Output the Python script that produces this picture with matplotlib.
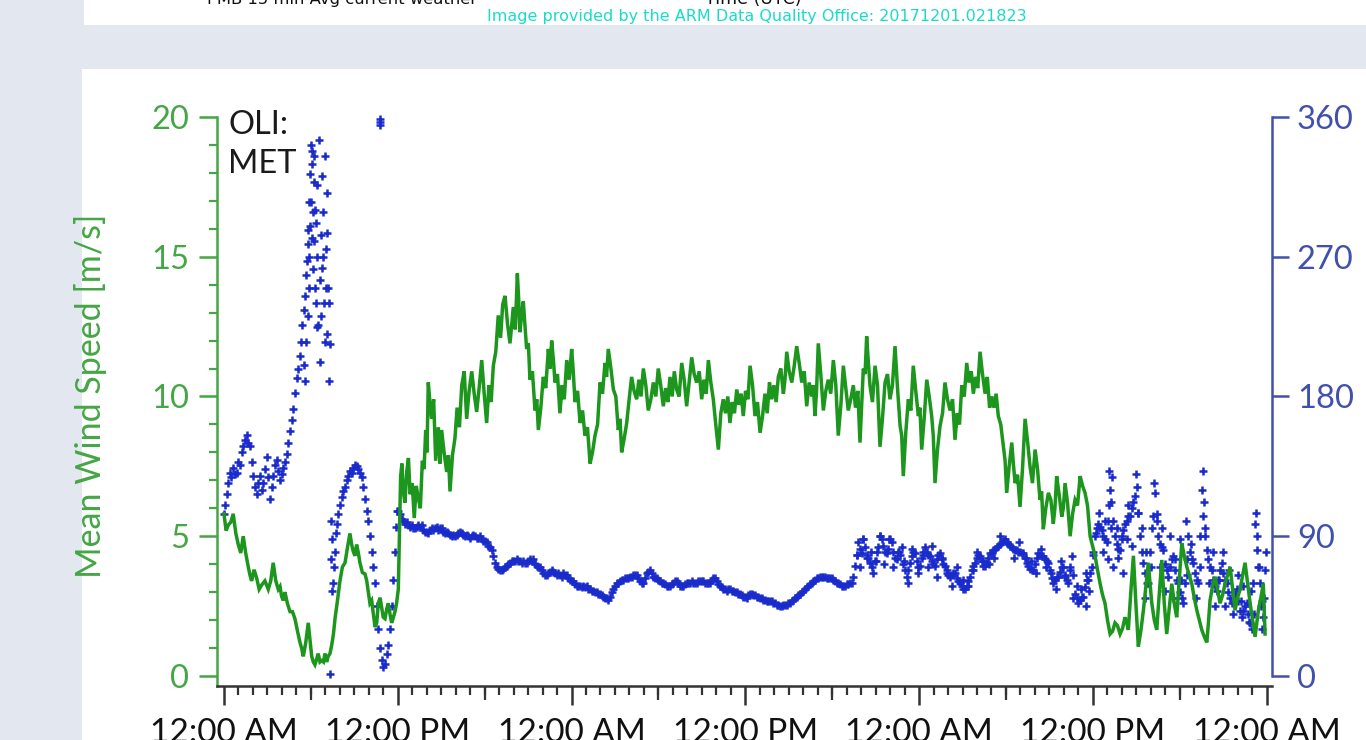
import matplotlib
matplotlib.use("Agg")
import matplotlib.pyplot as plt
import numpy as np
from matplotlib.patches import Rectangle
from matplotlib.ticker import FixedLocator, MultipleLocator

plt.rcParams["font.family"] = ["Lato", "DejaVu Sans"]

W, H = 1366, 740

# OLI MET: mean wind speed, hours since the first midnight (sorted before plotting)
speed_hours = [
    0.00, 0.30, 0.64, 0.99, 1.33, 1.68, 1.91, 2.26, 2.60, 3.06, 3.40, 3.75, 3.98, 4.21, 4.56, 4.90,
    5.25, 5.48, 5.82, 6.06, 6.28, 6.51, 6.75, 6.98, 7.20, 7.44, 7.67, 8.01, 8.36, 8.70, 8.93, 9.16,
    9.39, 9.74, 9.97, 10.20, 10.43, 10.66, 10.89, 11.12, 11.35, 11.58, 11.81, 12.04, 12.20, 12.38,
    12.62, 12.85, 13.14, 13.42, 13.70, 13.93, 14.11, 14.34, 14.62, 15.03, 15.38, 15.61, 15.95, 16.42,
    16.76, 17.11, 17.45, 17.80,
    18.14, 18.60, 18.94, 19.41, 19.75, 19.98, 20.26, 20.44, 20.67, 20.90, 21.13, 21.48, 21.71, 22.05,
    22.40, 22.63, 22.86, 23.20, 23.67, 24.01, 24.24, 24.59, 24.93, 25.28, 25.62, 25.97, 26.31, 26.54,
    26.89, 27.23, 27.46, 27.81, 28.15, 28.50, 28.96, 29.30, 29.65, 29.99, 30.34, 30.80, 31.26, 31.61,
    31.95, 32.30, 32.64, 32.99, 33.45, 33.79, 34.14, 34.48, 34.94, 35.41, 35.86,
    36.33, 36.67, 37.02, 37.36, 37.82, 38.28, 38.63, 38.86, 39.21, 39.55, 39.90, 40.24, 40.59, 40.81,
    41.04, 41.39, 41.73, 42.08, 42.42, 42.77, 43.11, 43.46, 43.92, 44.15, 44.38, 44.61, 44.96, 45.30,
    45.65, 45.99, 46.34, 46.69, 46.91, 47.26, 47.60, 47.95, 48.18, 48.53, 48.87, 49.10, 49.45, 49.79,
    50.14, 50.48, 50.95, 51.29, 51.75, 52.21, 52.56, 53.02, 53.47, 53.82, 54.05, 54.40,
    54.63, 54.97, 55.32, 55.66, 56.01, 56.35, 56.58, 56.93, 57.27, 57.50, 57.85, 58.08, 58.43, 58.77,
    59.12, 59.46, 59.81, 60.15, 60.50, 60.84, 61.19, 61.53, 61.88, 62.22, 62.45, 62.80, 63.14, 63.49,
    63.83, 64.07, 64.41, 64.76, 65.10, 65.45, 65.79, 66.14, 66.49, 66.83, 67.18, 67.52, 67.87, 68.09,
    68.44, 68.78, 69.13, 69.48, 69.82, 70.17, 70.51, 70.86, 71.20, 71.43, 71.77, 71.89,
    # short-period gusts between the readings above
    0.15, 0.47, 0.82, 1.16, 1.50, 1.80, 2.08, 2.43, 2.83, 3.23, 3.58, 3.87, 4.10, 4.38, 4.73, 5.08,
    5.36, 5.65, 5.94, 6.17, 6.40, 6.63, 6.87, 7.09, 7.32, 7.56, 7.84, 8.18, 8.53, 8.82, 9.05, 9.28,
    9.56, 9.86, 10.08, 10.32, 10.55, 10.78, 11.00, 11.24, 11.47, 11.70, 11.92,
    12.29, 12.50, 12.74, 13.00, 13.28, 13.56, 13.82, 14.02, 14.22, 14.48, 14.80, 14.92, 15.20, 15.50,
    15.78, 16.10, 16.26, 16.59, 16.93, 17.28, 17.62, 17.97, 18.30, 18.45, 18.77, 19.10, 19.25, 19.58,
    19.86, 20.12, 20.35, 20.55, 20.78, 21.02, 21.30, 21.60, 21.88, 22.22, 22.52, 22.75, 23.03, 23.35,
    23.50, 23.84, 24.12, 24.42, 24.76, 25.10, 25.45, 25.80, 26.14, 26.42, 26.72, 27.06, 27.35, 27.64,
    27.98, 28.32, 28.65, 28.80, 29.13, 29.48, 29.82, 30.16, 30.50, 30.65, 30.95, 31.10, 31.43, 31.78,
    32.12, 32.47, 32.82, 33.14, 33.30, 33.62, 33.96, 34.31, 34.63, 34.79, 35.10, 35.25, 35.56, 35.71,
    36.02, 36.18, 36.50, 36.84, 37.19, 37.51, 37.67, 37.97, 38.13, 38.45, 38.74, 39.03, 39.38, 39.72,
    40.07, 40.41, 40.70, 40.92, 41.21, 41.56, 41.90, 42.25, 42.60, 42.94, 43.28, 43.61, 43.77, 44.03,
    44.27, 44.50, 44.78, 45.13, 45.47, 45.82, 46.16, 46.51, 46.80, 47.08, 47.43, 47.77, 48.06, 48.35,
    48.70, 48.98, 49.27, 49.62, 49.96, 50.31, 50.64, 50.79, 51.12, 51.44, 51.60, 51.90, 52.05, 52.38,
    52.71, 52.87, 53.17, 53.32, 53.64, 53.94, 54.22, 54.51, 54.80, 55.14, 55.49, 55.83, 56.18, 56.46,
    56.75, 57.10, 57.38, 57.67, 57.96, 58.25, 58.60, 58.94, 59.29, 59.63,
    60.32, 60.67, 61.01, 61.36, 61.70, 62.05, 62.34, 62.62, 62.97, 63.31, 63.66, 63.95, 64.24, 64.58,
    64.93, 65.27, 65.62, 65.96, 66.31, 66.66, 67.00, 67.35, 67.70, 67.98, 68.26, 68.61, 68.96, 69.30,
    69.65, 69.99, 70.34, 70.69, 71.03, 71.32, 71.60,
]
speed_ms = [
    5.8, 5.4, 5.8, 4.7, 5.0, 3.9, 3.4, 3.5, 3.25, 3.1, 4.05, 3.1, 2.85, 3.0, 2.3, 2.05,
    1.2, 0.7, 1.9, 0.7, 0.4, 0.8, 0.55, 0.8, 0.7, 1.1, 2.05, 3.4, 4.05, 5.1, 4.45, 4.7,
    4.05, 3.65, 3.0, 2.7, 1.75, 2.6, 2.45, 2.05, 2.6, 1.9, 2.3, 3.1, 7.15, 6.6,
    7.3, 6.5, 5.65, 6.35, 7.7, 8.8, 10.5, 9.2, 7.7, 8.8, 7.3, 6.6, 8.5, 10.4,
    9.2, 10.9, 9.45, 11.3,
    9.05, 11.1, 12.9, 13.6, 11.9, 13.2, 14.4, 12.3, 13.4, 11.7, 10.6, 9.5, 8.8, 10.7,
    11.7, 12.0, 10.5, 9.4, 11.3, 11.7, 9.8, 9.05, 8.6, 7.6, 8.6, 10.5, 11.2, 11.7,
    10.25, 8.8, 8.0, 9.05, 10.7, 9.9, 11.0, 9.5, 10.5, 11.0, 9.65, 10.7, 10.25, 11.2,
    9.65, 11.4, 10.5, 9.9, 11.3, 9.9, 8.1, 9.9, 9.05, 10.25, 9.3,
    11.1, 9.3, 8.7, 10.1, 9.9, 10.7, 10.1, 11.6, 10.5, 11.8, 10.5, 9.65, 10.0, 9.3,
    11.9, 9.5, 10.6, 11.3, 8.6, 11.1, 9.5, 10.4, 8.35, 11.0, 12.15, 10.4, 11.1, 8.2,
    10.5, 9.9, 11.8, 8.95, 7.15, 9.9, 11.1, 9.3, 8.1, 10.6, 9.3, 6.9, 8.95, 10.5,
    9.5, 8.45, 10.4, 11.2, 10.1, 11.6, 10.1, 10.0, 9.3, 8.2, 6.55, 8.35,
    6.9, 6.05, 9.2, 7.5, 8.1, 6.3, 5.25, 6.55, 5.45, 7.15, 5.7, 6.9, 5.0, 6.3,
    7.15, 6.55, 5.0, 4.3, 3.3, 2.6, 1.5, 1.9, 1.5, 2.1, 1.65, 4.3, 1.05, 2.35,
    4.05, 2.6, 1.65, 4.15, 1.5, 3.3, 2.1, 4.75, 3.9, 3.3, 2.35, 1.65, 1.2, 2.7,
    3.55, 2.6, 3.3, 3.9, 2.35, 3.1, 4.05, 2.6, 1.4, 2.35, 3.3, 1.5,
    5.2, 5.5, 5.1, 4.4, 4.4, 3.6, 3.8, 3.1, 3.4, 3.4, 3.4, 3.2, 2.7, 2.6, 2.3, 1.6,
    1.0, 1.2, 1.3, 0.5, 0.6, 0.5, 0.5, 0.5, 0.8, 1.5, 2.7, 3.9, 4.6, 4.7, 4.3, 4.4,
    3.7, 3.4, 2.6, 2.2, 1.9, 2.8, 2.1, 2.4, 2.2, 2.1, 2.6,
    7.6, 6.2, 7.8, 6.9, 6.8, 6.0, 7.4, 8.0, 9.8, 9.9, 8.9, 7.6, 8.0, 7.9,
    7.9, 9.6, 8.9, 10.9, 10.2, 10.1, 10.3, 10.1, 10.4, 9.8, 11.6, 12.1, 13.3, 12.6,
    12.5, 12.4, 13.5, 12.9, 12.6, 11.9, 10.9, 9.9, 9.6, 10.3, 11.0, 11.3, 10.8, 10.4,
    9.9, 10.6, 10.9, 10.2, 9.5, 8.9, 8.0, 9.0, 10.1, 10.7, 11.0, 10.0, 9.2, 8.5,
    9.9, 10.2, 10.6, 10.0, 10.4, 9.9, 10.0, 10.4, 10.3, 9.8, 10.0, 10.9, 10.0, 10.6,
    10.5, 10.8, 10.9, 10.6, 10.1, 10.5, 9.0, 9.4, 9.4, 10.0, 9.8, 9.4, 9.7, 10.1,
    10.2, 9.9, 10.4, 9.8, 9.3, 9.4, 10.5, 10.4, 9.8, 11.0, 10.6, 10.9, 11.1, 11.2,
    10.9, 10.5, 10.4, 10.2, 10.8, 10.2, 10.1, 10.4, 9.7, 10.3, 9.9, 9.6, 10.2, 9.6,
    10.8, 11.2, 9.8, 10.4, 9.2, 10.8, 10.4, 10.3, 8.6, 8.7, 9.5, 10.2, 9.6, 9.2,
    10.0, 8.6, 8.1, 9.4, 9.9, 9.9, 9.4, 9.0, 10.0, 10.5, 10.9, 10.7, 10.3, 10.8,
    10.7, 9.6, 9.6, 10.1, 9.0, 7.7, 7.5, 7.6, 7.2, 7.4, 8.4, 6.9, 7.4, 6.6,
    6.0, 6.3, 6.0, 6.5, 6.0, 6.2, 5.8, 6.1, 6.8, 6.1,
    3.8, 2.9, 2.0, 1.6, 1.8, 1.7, 1.9, 3.0, 2.6, 1.6, 3.2, 3.3, 2.0, 2.9,
    2.6, 2.4, 2.6, 3.4, 4.3, 3.6, 2.8, 2.0, 1.4, 1.9, 3.2, 3.1, 2.9, 3.6,
    3.1, 2.8, 3.6, 3.3, 2.0, 1.9, 2.8,
]

# wind direction samples (degrees), same time base
dir_hours = [
    0.00, 0.07, 0.18, 0.30, 0.41, 0.52, 0.64, 0.75, 0.87, 0.98, 1.10, 1.22, 1.33, 1.45, 1.57, 1.68,
    1.80, 1.91, 2.02, 2.14, 2.26, 2.37, 2.49, 2.60, 2.71, 2.83, 2.95, 3.06, 3.18, 3.29, 3.40, 3.52,
    3.64, 3.75, 3.87, 3.98, 4.10, 4.21, 4.33, 4.45, 4.56, 4.68, 4.79, 4.91, 5.02, 5.14, 5.25, 5.33,
    5.41, 5.50, 5.59, 5.65, 5.71, 5.77, 5.82, 5.88, 5.94, 6.01, 6.06, 6.10, 6.17, 6.22, 6.28, 6.34,
    6.40, 6.45, 6.51, 6.57, 6.63, 6.69, 6.75, 6.80, 6.86, 6.92, 6.98, 7.03, 7.09, 7.15, 7.20, 7.26,
    7.32, 7.30, 7.36, 7.40, 7.44, 7.48, 7.52, 7.58, 7.65, 7.72, 7.80, 7.90, 8.01, 8.12, 8.24, 8.36,
    8.47, 8.59, 8.70, 8.82, 8.93, 9.05, 9.16, 9.28, 9.39, 9.50, 9.62, 9.74, 9.85, 9.97, 10.08, 10.20,
    10.31, 10.43, 10.55, 10.66, 10.75, 10.78, 10.80, 10.77, 10.89, 11.00, 11.12, 11.24, 11.35, 11.47,
    11.58, 11.70, 11.80, 11.88, 11.95,
    5.55, 5.62, 5.70, 5.78, 5.85, 5.90, 5.97, 6.03, 6.08, 6.14, 6.20, 6.25, 6.30, 6.36, 6.42, 6.60,
    6.70, 6.85, 6.95, 7.05, 7.12, 7.25,
    12.04, 12.15, 12.27, 12.38, 12.50, 12.62, 12.73, 12.85, 12.96, 13.08, 13.19, 13.31, 13.42, 13.54,
    13.65, 13.77, 13.88, 14.00, 14.11, 14.23, 14.34, 14.46, 14.57, 14.69, 14.80, 14.92, 15.03, 15.15,
    15.26, 15.38, 15.49, 15.61, 15.72, 15.84, 15.95, 16.07, 16.19, 16.30, 16.42, 16.53, 16.65, 16.76,
    16.87, 16.99, 17.10, 17.22, 17.33, 17.45, 17.57, 17.68, 17.80, 17.91, 18.03, 18.14, 18.26, 18.37,
    18.49, 18.60, 18.72, 18.83, 18.95, 19.06, 19.18, 19.29, 19.41, 19.52, 19.64, 19.75, 19.87, 19.98,
    20.10, 20.21, 20.33, 20.44, 20.56, 20.67, 20.79, 20.90, 21.02, 21.13, 21.25, 21.36, 21.48, 21.59,
    21.71, 21.82, 21.94, 22.05, 22.17, 22.29, 22.40, 22.52, 22.63, 22.74, 22.86, 22.97, 23.09, 23.20,
    23.32, 23.43, 23.55, 23.67, 23.78, 23.90, 24.01, 24.12, 24.24, 24.36, 24.47, 24.59, 24.70, 24.82,
    24.93, 25.05, 25.16, 25.28, 25.39, 25.50, 25.62, 25.74, 25.85, 25.97, 26.08, 26.20, 26.31, 26.43,
    26.55, 26.66, 26.78, 26.89, 27.01, 27.12, 27.23, 27.35, 27.46, 27.58, 27.69, 27.81, 27.92, 28.04,
    28.15, 28.27, 28.38, 28.50, 28.61, 28.73, 28.84, 28.96, 29.07, 29.19, 29.30, 29.42, 29.53, 29.65,
    29.76, 29.88, 29.99, 30.11, 30.22, 30.34, 30.45, 30.57, 30.68, 30.80, 30.91, 31.03, 31.14, 31.26,
    31.37, 31.49, 31.61, 31.72, 31.84, 31.95, 32.07, 32.18, 32.30, 32.41, 32.53, 32.64, 32.76, 32.87,
    32.99, 33.10, 33.22, 33.33, 33.45, 33.56, 33.68, 33.79, 33.91, 34.02, 34.14, 34.25, 34.37, 34.48,
    34.60, 34.72, 34.83, 34.95, 35.06, 35.17, 35.29, 35.41, 35.52, 35.64, 35.75, 35.87, 35.98, 36.10,
    36.21, 36.33, 36.44, 36.56, 36.67, 36.79, 36.90, 37.02, 37.13, 37.25, 37.36, 37.48, 37.59, 37.71,
    37.82, 37.94, 38.05, 38.17, 38.28, 38.40, 38.51, 38.63, 38.74, 38.86, 38.97, 39.09, 39.21, 39.32,
    39.44, 39.55, 39.66, 39.78, 39.90, 40.01, 40.12, 40.24, 40.36, 40.47, 40.59, 40.70, 40.81, 40.93,
    41.04, 41.16, 41.28, 41.39, 41.51, 41.62, 41.74, 41.85, 41.97, 42.08, 42.20, 42.31, 42.42, 42.54,
    42.66, 42.77, 42.89, 43.00, 43.12, 43.23, 43.35, 43.46, 43.58, 43.69, 43.81, 43.92, 44.04, 44.15,
    44.27, 44.38, 44.50, 44.61, 44.73, 44.84, 44.96, 45.07, 45.19, 45.30, 45.42, 45.53, 45.65, 45.77,
    45.88, 45.99, 46.11, 46.23, 46.34, 46.46, 46.57, 46.69, 46.80, 46.92, 47.03, 47.15, 47.26, 47.38,
    47.49, 47.60, 47.72, 47.84, 47.95, 48.07, 48.18, 48.30, 48.41, 48.53, 48.64, 48.76, 48.87, 48.99,
    49.10, 49.22, 49.33, 49.45, 49.56, 49.68, 49.79, 49.91, 50.02, 50.14, 50.25, 50.37, 50.48, 50.60,
    50.71, 50.83, 50.94, 51.06, 51.17, 51.29, 51.40, 51.52, 51.63, 51.75, 51.86, 51.98, 52.09, 52.21,
    52.32, 52.44, 52.56, 52.67, 52.79, 52.90, 53.02, 53.13, 53.25, 53.36, 53.47, 53.59, 53.70, 53.82,
    53.94, 54.05, 54.17, 54.28, 54.40,
    43.70, 43.95, 44.15, 44.40, 44.70, 45.00, 45.30, 45.55, 45.90, 46.20, 46.60, 46.95, 47.25, 47.50,
    47.90, 48.25, 48.60, 48.90, 49.25, 49.60, 49.95, 50.30, 50.60, 51.00, 51.35, 51.70, 52.00, 52.40,
    52.80, 53.20, 53.60, 54.10, 54.55, 54.90, 55.35, 55.70, 56.05, 56.40, 56.75, 57.10, 57.45, 57.80,
    58.10, 58.40, 58.65, 58.90, 59.20, 59.50,
    54.51, 54.63, 54.74, 54.86, 54.97, 55.09, 55.20, 55.32, 55.43, 55.55, 55.66, 55.78, 55.89, 56.01,
    56.12, 56.24, 56.35, 56.47, 56.58, 56.70, 56.81, 56.93, 57.04, 57.16, 57.27, 57.39, 57.50, 57.62,
    57.73, 57.85, 57.96, 58.08, 58.19, 58.31, 58.42, 58.54, 58.65, 58.77, 58.88, 59.00, 59.11, 59.23,
    59.34, 59.46, 59.57, 59.69, 59.80, 59.92, 60.03, 60.15, 60.26, 60.38, 60.49, 60.61, 60.72, 60.84,
    60.96, 61.05, 61.14, 61.19, 61.30, 61.42, 61.53, 61.65, 61.76, 61.88, 61.99, 62.11, 62.22, 62.34,
    62.45, 62.57, 62.68, 62.80, 62.91, 63.03, 63.14, 63.26, 63.37, 63.49, 63.60, 63.72, 63.83, 63.95,
    64.06, 64.18, 64.30, 64.41, 64.52, 64.64, 64.75, 64.87, 64.98, 65.10, 65.21, 65.33, 65.44, 65.56,
    65.67, 65.79, 65.90, 66.02, 66.13, 66.25, 66.36, 66.48, 66.59, 66.71, 66.82, 66.94, 67.05, 67.17,
    67.29, 67.40, 67.52, 67.63, 67.75, 67.86, 67.98, 68.09, 68.21, 68.33, 68.44, 68.56, 68.67, 68.79,
    68.90, 69.02, 69.13, 69.25, 69.36, 69.48, 69.59, 69.71, 69.82, 69.94, 70.05, 70.17, 70.28, 70.40,
    70.51, 70.63, 70.74, 70.86, 70.97, 71.09, 71.20, 71.32, 71.43, 71.55, 71.66, 71.77, 71.89,
    59.50, 59.75, 60.00, 60.25, 60.45, 60.70, 60.85, 61.05, 61.14, 61.22, 61.25, 61.40, 61.65, 61.75,
    62.00, 62.10, 62.35, 62.45, 62.70, 62.98, 63.10, 63.40, 63.60, 63.70, 64.00, 64.25, 64.40, 64.65,
    64.80, 65.00, 65.35, 65.50, 65.70, 66.00, 66.10, 66.40, 66.50, 66.80, 67.10, 67.40, 67.58, 67.66,
    67.75, 68.00, 68.30, 68.45, 68.70, 69.00, 69.10, 69.40, 69.70, 70.00, 70.20, 70.40, 70.75, 70.90,
    71.10, 71.25, 71.35, 71.45, 71.60, 71.70, 71.85, 71.95,
]
dir_deg = [
    104, 110, 117, 124, 131, 128, 134, 130, 131, 138, 136, 144, 148, 152, 155, 150,
    148, 138, 129, 122, 117, 124, 129, 120, 124, 133, 141, 128, 114, 122, 129, 136,
    139, 132, 126, 130, 134, 138, 143, 150, 158, 165, 172, 182, 192, 198, 206, 215,
    226, 236, 245, 258, 267, 278, 287, 305, 323, 342, 338, 330, 299, 280, 250, 292,
    270, 316, 226, 345, 202, 284, 263, 322, 299, 240, 335, 275, 311, 220, 250, 190,
    214, 1, 100, 75, 55, 88, 60, 70, 80, 92, 98, 104, 110, 115, 119, 122,
    126, 129, 132, 131, 134, 136, 135, 133, 131, 128, 122, 114, 106, 100, 90, 80,
    70, 60, 45, 30, 357, 359, 355, 18, 10, 6, 8, 14, 20, 30,
    45, 62, 80, 96, 106,
    200, 190, 215, 232, 250, 270, 290, 305, 282, 262, 318, 335, 300, 240, 225, 255,
    232, 270, 215, 250, 285, 240,
    106, 104, 101, 100, 98, 99, 97, 96, 97, 95, 95, 96, 97, 96,
    97, 94, 93, 93, 92, 94, 95, 94, 95, 96, 94, 95, 95, 93,
    92, 93, 92, 91, 90, 91, 90, 91, 92, 93, 92, 91, 90, 91,
    90, 89, 90, 91, 90, 89, 89, 90, 88, 87, 87, 86, 84, 83,
    81, 77, 73, 70, 69, 68, 68, 69, 70, 71, 72, 73, 74, 74,
    74, 75, 74, 74, 73, 74, 73, 73, 74, 75, 74, 75, 72, 71,
    70, 70, 68, 66, 65, 65, 66, 67, 68, 67, 66, 65, 66, 65,
    64, 66, 65, 65, 63, 62, 61, 61, 59, 58, 58, 58, 57, 58,
    57, 58, 56, 56, 55, 55, 54, 54, 53, 53, 52, 51, 50, 50,
    49, 51, 54, 56, 58, 60, 60, 61, 62, 62, 63, 63, 63, 64,
    64, 65, 65, 65, 63, 61, 60, 60, 63, 66, 67, 68, 66, 64,
    63, 63, 62, 61, 60, 60, 59, 58, 58, 58, 59, 60, 61, 61,
    60, 58, 58, 58, 59, 60, 60, 60, 61, 60, 60, 60, 61, 61,
    61, 61, 60, 60, 60, 60, 62, 63, 63, 61, 59, 58, 57, 56,
    56, 55, 56, 56, 55, 55, 54, 54, 53, 53, 52, 51, 51, 50,
    52, 53, 53, 52, 52, 51, 51, 50, 50, 49, 49, 48, 48, 48,
    48, 47, 47, 46, 46, 45, 45, 46, 46, 46, 47, 47, 48, 49,
    50, 51, 52, 53, 54, 55, 56, 57, 58, 59, 60, 61, 62, 63,
    63, 64, 64, 64, 64, 63, 63, 63, 63, 62, 61, 60, 60, 59,
    58, 58, 58, 59, 59, 60, 60, 64, 71, 78, 86, 82, 79, 88,
    83, 78, 76, 73, 70, 66, 74, 80, 83, 90, 88, 84, 80, 79,
    82, 88, 86, 80, 76, 75, 80, 78, 83, 72, 68, 64, 68, 73,
    77, 80, 79, 74, 70, 71, 76, 80, 83, 80, 78, 77, 74, 72,
    71, 75, 78, 79, 75, 72, 71, 68, 65, 64, 65, 66, 66, 63,
    61, 60, 58, 56, 56, 58, 61, 64, 68, 71, 73, 76, 78, 77,
    74, 71, 71, 73, 76, 79, 79, 81, 82, 83, 84, 85, 86, 87,
    88, 86, 85, 84, 83,
    78, 70, 88, 76, 80, 74, 90, 72, 88, 70, 80, 74, 60, 82,
    66, 78, 70, 84, 64, 76, 66, 58, 70, 62, 58, 68, 80, 74,
    72, 76, 90, 86, 76, 86, 76, 74, 66, 82, 70, 66, 56, 74,
    64, 70, 50, 58, 56, 45,
    82, 81, 81, 80, 80, 79, 79, 76, 73, 71, 69, 68, 68, 72,
    76, 79, 78, 77, 77, 75, 74, 73, 68, 63, 60, 62, 64, 64,
    67, 70, 70, 65, 62, 60, 68, 77, 65, 53, 50, 47, 49, 51,
    51, 57, 62, 62, 66, 70, 80, 90, 95, 98, 96, 94, 90, 88,
    86, 100, 110, 120, 128, 100, 90, 85, 82, 81, 88, 94, 98, 100,
    103, 103, 108, 112, 116, 122, 105, 90, 80, 73, 66, 60, 60, 80,
    95, 103, 118, 104, 90, 85, 83, 81, 72, 68, 64, 70, 75, 77,
    68, 62, 60, 54, 50, 47, 60, 75, 90, 80, 75, 73, 66, 62,
    60, 90, 120, 103, 90, 81, 75, 70, 68, 62, 58, 55, 62, 68,
    73, 66, 62, 60, 54, 50, 47, 50, 53, 56, 48, 42, 38, 42,
    45, 47, 40, 34, 30, 60, 98, 81, 70, 60, 48, 38, 68,
    66, 55, 78, 92, 105, 80, 100, 75, 132, 95, 112, 70, 95, 76,
    90, 66, 88, 110, 84, 130, 105, 95, 50, 80, 70, 124, 100, 70,
    95, 55, 90, 50, 75, 88, 62, 100, 65, 85, 50, 70, 132, 112,
    95, 60, 80, 45, 62, 80, 45, 68, 40, 65, 48, 58, 35, 55,
    40, 105, 90, 70, 45, 30, 50, 80,
]

tick_hours = [0, 12, 24, 36, 48, 60, 72]
tick_labels = ["12:00 AM", "12:00 PM", "12:00 AM", "12:00 PM",
               "12:00 AM", "12:00 PM", "12:00 AM"]
six_hour_ticks = [6, 18, 30, 42, 54, 66]

GREEN_LINE = "#1c961c"
GREEN_AXIS = "#44a644"
BLUE_MARK = "#1a2bcc"
BLUE_AXIS = "#4150ad"

order = np.argsort(speed_hours, kind="stable")
t_speed = np.asarray(speed_hours)[order]
v_speed = np.asarray(speed_ms)[order]

fig = plt.figure(figsize=(W / 100, H / 100), dpi=100)
fig.patch.set_facecolor("#e3e7ef")

# page panels behind the plot
fig.add_artist(Rectangle((84 / W, 1 - 25 / H), 1, 25 / H, transform=fig.transFigure,
                         facecolor="white", edgecolor="none", zorder=0))
fig.add_artist(Rectangle((82 / W, 0), 1, (H - 69) / H, transform=fig.transFigure,
                         facecolor="white", edgecolor="none", zorder=0))

fig.text(207 / W, 1 - 4 / H, "PMB 15 min Avg current weather", fontsize=11.8,
         family="DejaVu Sans", color="#111", va="baseline", ha="left")
fig.text(705 / W, 1 - 4 / H, "Time (UTC)", fontsize=12.5,
         family="DejaVu Sans", color="#111", va="baseline", ha="left")
fig.text(757 / W, 1 - 16 / H,
         "Image provided by the ARM Data Quality Office: 20171201.021823",
         fontsize=11.5, family="DejaVu Sans", color="#19dcc8", va="center", ha="center")

ax = fig.add_axes([217 / W, (H - 686) / H, (1272 - 217) / W, (686 - 117) / H])
ax2 = ax.twinx()
# speed line drawn above the direction markers
ax.set_zorder(ax2.get_zorder() + 1)
ax.patch.set_visible(False)

ax.plot(t_speed, v_speed, color=GREEN_LINE, lw=2.5, zorder=2, solid_joinstyle="miter")

ax.set_xlim(-0.48, 72.37)
ax.set_ylim(-0.36, 20)
ax.set_yticks([0, 5, 10, 15, 20])
ax.yaxis.set_minor_locator(MultipleLocator(1))
ax.xaxis.set_major_locator(FixedLocator(tick_hours))
ax.xaxis.set_minor_locator(MultipleLocator(1))
ax.set_xticklabels(tick_labels)

for side in ("top", "right"):
    ax.spines[side].set_visible(False)
ax.spines["left"].set_color(GREEN_AXIS)
ax.spines["left"].set_linewidth(1.8)
ax.spines["bottom"].set_color("#333333")
ax.spines["bottom"].set_linewidth(1.8)

ax.tick_params(axis="y", which="major", length=13, width=1.8, colors=GREEN_AXIS,
               labelsize=23.5, pad=7)
ax.tick_params(axis="y", which="minor", length=6, width=1.6, colors=GREEN_AXIS)
ax.tick_params(axis="x", which="major", length=14, width=1.8, colors="#333333",
               labelsize=24, pad=9)
ax.tick_params(axis="x", which="minor", length=6.5, width=1.6, colors="#333333")
for lbl in ax.get_xticklabels():
    lbl.set_color("#111111")

# medium ticks every six hours
sec = ax.secondary_xaxis("bottom")
sec.set_xticks(six_hour_ticks)
sec.tick_params(axis="x", length=10, width=1.6, colors="#333333", labelbottom=False)
sec.spines["bottom"].set_visible(False)

ax.set_ylabel("Mean Wind Speed [m/s]", color=GREEN_AXIS, fontsize=24.5)
ax.yaxis.set_label_coords(-0.104, 0.51)

ax.text(0.0105, 1.012, "OLI:\nMET", transform=ax.transAxes, va="top", ha="left",
        fontsize=23.5, linespacing=1.35, color="#1a1a1a")

ax2.plot(dir_hours, dir_deg, ls="none", marker="+", ms=6, mew=1.8,
         color=BLUE_MARK, clip_on=False, zorder=3)
ax2.set_ylim(-0.36 * 18, 360)
ax2.set_yticks([0, 90, 180, 270, 360])
for side in ("top", "left", "bottom"):
    ax2.spines[side].set_visible(False)
ax2.spines["right"].set_bounds(0, 360)
ax2.spines["right"].set_color(BLUE_AXIS)
ax2.spines["right"].set_linewidth(1.8)
ax2.tick_params(axis="y", length=12, width=1.8, colors=BLUE_AXIS, labelsize=23.5, pad=6)

fig.savefig("out.png", dpi=100, facecolor=fig.get_facecolor())
